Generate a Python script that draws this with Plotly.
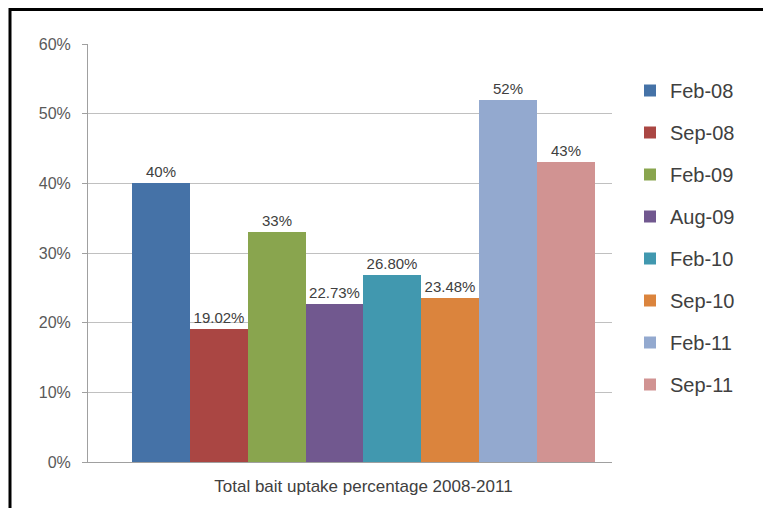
import plotly.graph_objects as go

category = ["Total bait uptake percentage 2008-2011"]
series_names = ["Feb-08", "Sep-08", "Feb-09", "Aug-09", "Feb-10", "Sep-10", "Feb-11", "Sep-11"]
values = [0.40, 0.1902, 0.33, 0.2273, 0.268, 0.2348, 0.52, 0.43]
labels = ["40%", "19.02%", "33%", "22.73%", "26.80%", "23.48%", "52%", "43%"]
colors = ["#4572A7", "#AA4643", "#89A54E", "#71588F", "#4198AF", "#DB843D", "#93A9CF", "#D19392"]

# page offset (browser body margin) compensation
OFF = 8
W, H = 771, 508
L, R, T, B = 88 - OFF, 771 - (612 - OFF), 44 - OFF, 508 - (462 - OFF)
pw, ph = W - L - R, H - T - B

fig = go.Figure()
for name, v, lab, c in zip(series_names, values, labels, colors):
    fig.add_trace(go.Bar(
        x=category, y=[v], name=name, marker_color=c, marker_line_width=0,
        text=[lab], textposition="outside", cliponaxis=False,
        textfont=dict(size=15, color="#404040", family="Liberation Sans"),
        legendgroup=name,
    ))

def px_x(p):
    return (p - OFF - L) / pw

def px_y(p):
    return (H - B - (p - OFF)) / ph

fig.update_layout(
    width=W, height=H,
    margin=dict(l=L, r=R, t=T, b=B, autoexpand=False),
    paper_bgcolor="white", plot_bgcolor="white",
    barmode="group", bargap=0, bargroupgap=0,
    font=dict(family="Liberation Sans", color="#595959"),
    legend=dict(
        x=px_x(630), y=px_y(71), xanchor="left", yanchor="top",
        font=dict(size=20, color="#404040", family="Liberation Sans"),
        tracegroupgap=13, itemsizing="constant",
    ),
    showlegend=True,
    shapes=[dict(
        type="rect", xref="paper", yref="paper",
        x0=px_x(10), x1=px_x(800), y0=px_y(540), y1=px_y(OFF + 1.5),
        line=dict(color="black", width=3), fillcolor="rgba(0,0,0,0)", layer="above",
    )],
)
fig.update_yaxes(
    range=[0, 0.6], dtick=0.1, tickformat=".0%",
    showgrid=True, gridcolor="#C0C0C0", gridwidth=1,
    showline=True, linecolor="#A0A0A0", linewidth=1,
    ticks="outside", ticklen=5, tickcolor="#A0A0A0",
    ticklabelstandoff=8,
    tickfont=dict(size=16, color="#595959"), zeroline=False,
)
fig.update_xaxes(
    range=[-0.595, 0.537],
    showline=True, linecolor="#A0A0A0", linewidth=1,
    ticks="", ticklabelstandoff=9, tickfont=dict(size=17, color="#404040"),
)

fig.write_html("out.html")
